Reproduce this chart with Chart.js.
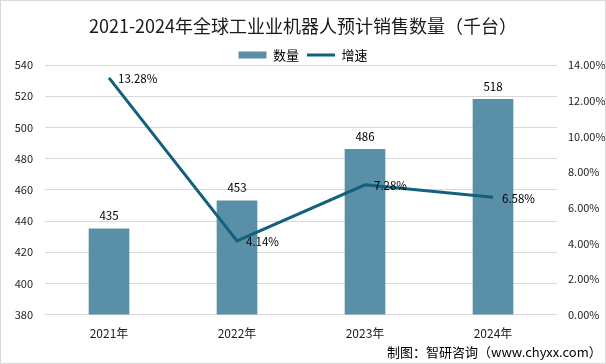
<!DOCTYPE html>
<html><head><meta charset="utf-8">
<script src="https://cdn.jsdelivr.net/npm/chart.js@4/dist/chart.umd.min.js"></script>
<style>
html,body{margin:0;padding:0;background:#fff;}
#wrap{position:relative;width:606px;height:364px;overflow:hidden;}
#c{position:absolute;left:0;top:0;}
#frame{position:absolute;left:0;top:0;width:604px;height:362px;border:1px solid #d9d9d9;pointer-events:none;}
#src{position:absolute;left:387px;top:342px;font:13px 'Noto Sans CJK SC',sans-serif;line-height:20px;color:#000;white-space:nowrap;}
</style></head>
<body>
<div id="wrap"><canvas id="c" width="606" height="364"></canvas><div id="frame"></div><div id="src">制图：智研咨询（www.chyxx.com）</div></div>
<script>
const categories = ['2021年', '2022年', '2023年', '2024年'];
const quantity = [435, 453, 486, 518];
const growth = [13.28, 4.14, 7.28, 6.58];
const leftAxis = { min: 380, max: 540, step: 20 };
const rightAxis = { min: 0, max: 14, step: 2 };

const CJK = "'Noto Sans CJK SC', sans-serif";
const NUM = "'Noto Sans CJK SC', sans-serif";

const valueLabels = {
  id: 'valueLabels',
  afterDatasetsDraw(chart) {
    const ctx = chart.ctx;
    ctx.save();
    ctx.font = '11.5px ' + NUM;
    ctx.fillStyle = '#000';
    chart.getDatasetMeta(0).data.forEach((el, i) => {
      ctx.textAlign = 'center';
      ctx.textBaseline = 'middle';
      ctx.fillText(String(quantity[i]), el.x, el.y - 13);
    });
    chart.getDatasetMeta(1).data.forEach((el, i) => {
      ctx.textAlign = 'left';
      ctx.textBaseline = 'middle';
      ctx.fillText(growth[i].toFixed(2) + '%', el.x + 9, el.y + 1);
    });
    ctx.restore();
  }
};

const tightLegend = {
  id: 'tightLegend',
  afterInit(chart) {
    const lg = chart.legend;
    if (!lg) return;
    const fit = lg.fit;
    lg.fit = function () { fit.call(this); this.height -= 6.5; };
  }
};

new Chart(document.getElementById('c'), {
  data: {
    labels: categories,
    datasets: [
      {
        type: 'bar', label: '数量', data: quantity, yAxisID: 'y',
        backgroundColor: '#5a90a7', borderWidth: 0,
        barThickness: 40, order: 2, pointStyle: 'rect'
      },
      {
        type: 'line', label: '增速', data: growth, yAxisID: 'y1',
        borderColor: '#12607e', backgroundColor: '#12607e', borderWidth: 3,
        pointRadius: 0, pointHoverRadius: 0, tension: 0, order: 1, pointStyle: 'line'
      }
    ]
  },
  options: {
    responsive: false,
    animation: false,
    layout: { padding: { left: 0, right: 0, top: 0, bottom: 11 } },
    plugins: {
      tooltip: { enabled: false },
      title: {
        display: true,
        text: '2021-2024年全球工业业机器人预计销售数量（千台）',
        color: '#1a1a1a',
        font: { family: CJK, size: 18, weight: 'normal' },
        padding: { top: 15, bottom: 4 }
      },
      legend: {
        display: true,
        position: 'top',
        labels: {
          usePointStyle: true,
          pointStyleWidth: 28,
          boxHeight: 7,
          padding: 8,
          color: '#000',
          font: { family: CJK, size: 13 },
          sort: (a, b) => a.datasetIndex - b.datasetIndex
        }
      }
    },
    scales: {
      x: {
        grid: { display: false, drawTicks: false },
        border: { display: false },
        ticks: { color: '#222', font: { family: NUM, size: 12 }, padding: 12 }
      },
      y: {
        position: 'left',
        min: leftAxis.min, max: leftAxis.max,
        grid: { color: '#d9d9d9', drawTicks: false },
        border: { display: false },
        ticks: { stepSize: leftAxis.step, color: '#222', font: { family: NUM, size: 11 }, padding: 12 },
        afterFit(scale) { scale.width = 45; }
      },
      y1: {
        position: 'right',
        min: rightAxis.min, max: rightAxis.max,
        grid: { display: false, drawTicks: false },
        border: { display: false },
        ticks: {
          stepSize: rightAxis.step, color: '#222', font: { family: NUM, size: 11 }, padding: 11,
          callback: v => Number(v).toFixed(2) + '%'
        },
        afterFit(scale) { scale.width = 49; }
      }
    }
  },
  plugins: [valueLabels, tightLegend]
});
</script>
</body></html>
